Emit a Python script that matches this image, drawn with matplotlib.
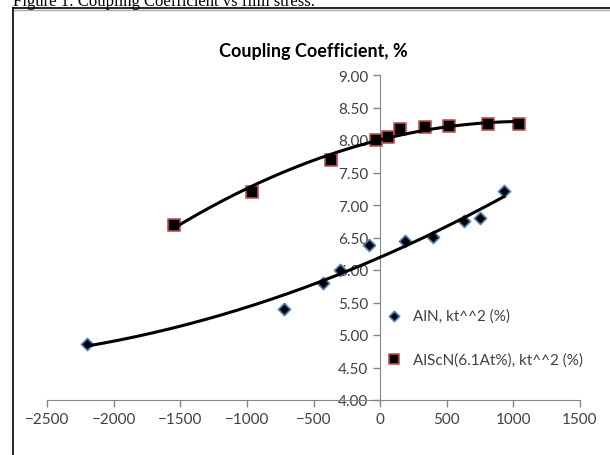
import numpy as np
import matplotlib
matplotlib.use("Agg")
import matplotlib.pyplot as plt
from matplotlib.lines import Line2D

# film stress (MPa) vs kt^2 (%)
aln_x = [-2200, -720, -425, -300, -80, 190, 400, 630, 750, 930]
aln_y = [4.86, 5.40, 5.80, 6.00, 6.38, 6.45, 6.51, 6.75, 6.80, 7.21]
alscn_x = [-1550, -960, -370, -30, 60, 150, 340, 520, 810, 1040]
alscn_y = [6.70, 7.20, 7.70, 8.00, 8.05, 8.17, 8.20, 8.21, 8.24, 8.25]
labels = ["AlN, kt^^2 (%)", "AlScN(6.1At%), kt^^2 (%)"]

W, H = 610, 456
fig = plt.figure(figsize=(6.1, 4.56), dpi=100)

# caption and outer frame of the figure box
fig.text(13 / W, 1 - 6 / H, "Figure 1: Coupling Coefficient vs film stress.",
         family="Liberation Serif", fontsize=12, va="baseline", ha="left")
fig.add_artist(Line2D([13 / W, 1], [1 - 9 / H, 1 - 9 / H], color="black", lw=1.2))
fig.add_artist(Line2D([13 / W, 1], [1 - 10.5 / H, 1 - 10.5 / H], color="#aaaaaa", lw=1))
fig.add_artist(Line2D([13 / W, 13 / W], [0, 1 - 9 / H], color="black", lw=1.2))

ax = fig.add_axes([47 / W, 1 - 401 / H, (580 - 47) / W, (401 - 76) / H])

gray = "#868686"
txt = "#404040"
ax.scatter(aln_x, aln_y, marker="D", s=38, c="black", edgecolors="#4f81bd",
           linewidths=1.2, zorder=3, label=labels[0])
ax.scatter(alscn_x, alscn_y, marker="s", s=70, c="black", edgecolors="#c0504d",
           linewidths=1.2, zorder=3, label=labels[1])

# polynomial trendlines (order 2), as in the spreadsheet
for xs, ys in [(aln_x, aln_y), (alscn_x, alscn_y)]:
    p = np.polyfit(xs, ys, 2)
    xx = np.linspace(min(xs), max(xs), 200)
    ax.plot(xx, np.polyval(p, xx), color="black", lw=2.2, zorder=4)

ax.set_xlim(-2500, 1500)
ax.set_ylim(4, 9)
ax.set_xticks(np.arange(-2500, 1501, 500))
ax.set_yticks(np.arange(4, 9.01, 0.5))
ax.set_yticklabels([f"{v:.2f}" for v in np.arange(4, 9.01, 0.5)])

for s in ["top", "right"]:
    ax.spines[s].set_visible(False)
ax.spines["left"].set_position(("data", 0))
ax.spines["left"].set_color(gray)
ax.spines["bottom"].set_color(gray)
ax.tick_params(axis="both", colors=gray, labelcolor=txt, labelsize=11,
               length=5, width=1, direction="out")
for t in ax.get_xticklabels() + ax.get_yticklabels():
    t.set_family("Lato")

ax.set_title("Coupling Coefficient, %", family="Lato", fontweight="bold",
             fontsize=13, pad=14)

leg = ax.legend(loc="upper left", bbox_to_anchor=(0.62, 0.305), frameon=False,
                prop={"family": "Lato", "size": 11}, labelspacing=1.9,
                handletextpad=0.6, borderpad=0, handlelength=1.2,
                markerscale=0.85)
for t in leg.get_texts():
    t.set_color(txt)

fig.savefig("out.png", dpi=100)
